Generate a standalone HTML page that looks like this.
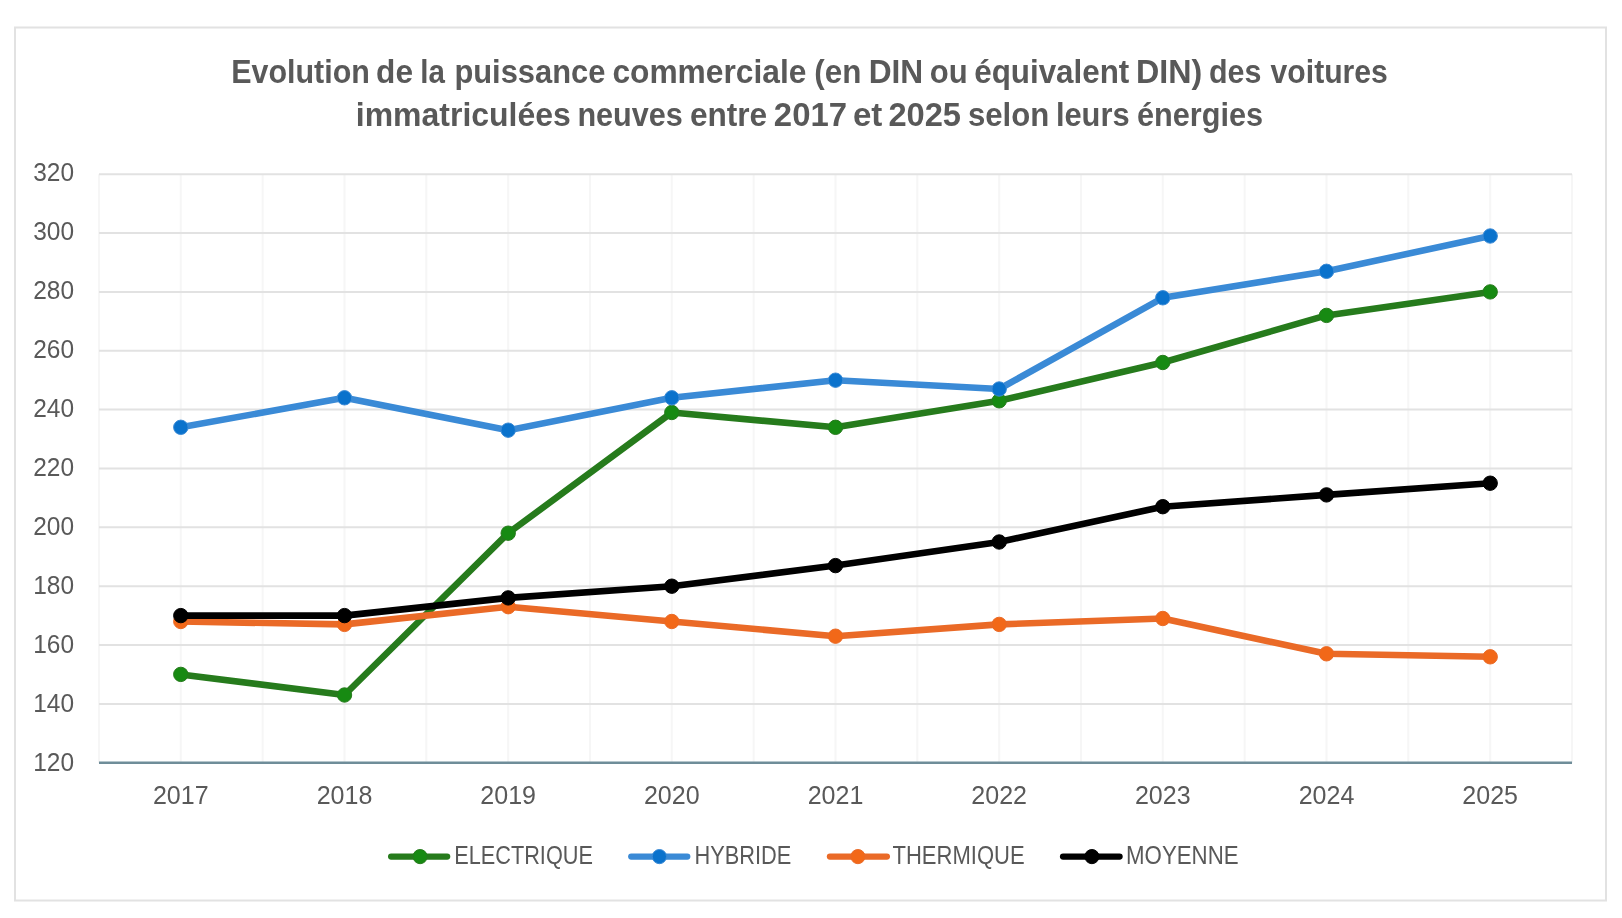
<!DOCTYPE html>
<html><head><meta charset="utf-8"><style>
html,body{margin:0;padding:0;background:#fff;width:1622px;height:918px;overflow:hidden}
svg{display:block;will-change:transform}
text{font-family:"Liberation Sans",sans-serif;fill:#595959}
.ax{font-size:25.5px}
.tt{font-size:32.7px;font-weight:bold}
.lg{font-size:25.6px}
</style></head><body>
<svg width="1622" height="918" viewBox="0 0 1622 918">
<rect x="15" y="27.5" width="1591" height="873" fill="#fff" stroke="#e2e2e2" stroke-width="2"/>
<line x1="99.0" y1="174.2" x2="99.0" y2="762.7" stroke="#f6f6f6" stroke-width="2"/>
<line x1="180.8" y1="174.2" x2="180.8" y2="762.7" stroke="#f6f6f6" stroke-width="2"/>
<line x1="262.7" y1="174.2" x2="262.7" y2="762.7" stroke="#f6f6f6" stroke-width="2"/>
<line x1="344.5" y1="174.2" x2="344.5" y2="762.7" stroke="#f6f6f6" stroke-width="2"/>
<line x1="426.3" y1="174.2" x2="426.3" y2="762.7" stroke="#f6f6f6" stroke-width="2"/>
<line x1="508.2" y1="174.2" x2="508.2" y2="762.7" stroke="#f6f6f6" stroke-width="2"/>
<line x1="590.0" y1="174.2" x2="590.0" y2="762.7" stroke="#f6f6f6" stroke-width="2"/>
<line x1="671.8" y1="174.2" x2="671.8" y2="762.7" stroke="#f6f6f6" stroke-width="2"/>
<line x1="753.7" y1="174.2" x2="753.7" y2="762.7" stroke="#f6f6f6" stroke-width="2"/>
<line x1="835.5" y1="174.2" x2="835.5" y2="762.7" stroke="#f6f6f6" stroke-width="2"/>
<line x1="917.3" y1="174.2" x2="917.3" y2="762.7" stroke="#f6f6f6" stroke-width="2"/>
<line x1="999.2" y1="174.2" x2="999.2" y2="762.7" stroke="#f6f6f6" stroke-width="2"/>
<line x1="1081.0" y1="174.2" x2="1081.0" y2="762.7" stroke="#f6f6f6" stroke-width="2"/>
<line x1="1162.8" y1="174.2" x2="1162.8" y2="762.7" stroke="#f6f6f6" stroke-width="2"/>
<line x1="1244.7" y1="174.2" x2="1244.7" y2="762.7" stroke="#f6f6f6" stroke-width="2"/>
<line x1="1326.5" y1="174.2" x2="1326.5" y2="762.7" stroke="#f6f6f6" stroke-width="2"/>
<line x1="1408.3" y1="174.2" x2="1408.3" y2="762.7" stroke="#f6f6f6" stroke-width="2"/>
<line x1="1490.2" y1="174.2" x2="1490.2" y2="762.7" stroke="#f6f6f6" stroke-width="2"/>
<line x1="1572.0" y1="174.2" x2="1572.0" y2="762.7" stroke="#f6f6f6" stroke-width="2"/>
<line x1="99.0" y1="703.9" x2="1572.0" y2="703.9" stroke="#e2e2e2" stroke-width="2"/>
<line x1="99.0" y1="645.0" x2="1572.0" y2="645.0" stroke="#e2e2e2" stroke-width="2"/>
<line x1="99.0" y1="586.2" x2="1572.0" y2="586.2" stroke="#e2e2e2" stroke-width="2"/>
<line x1="99.0" y1="527.3" x2="1572.0" y2="527.3" stroke="#e2e2e2" stroke-width="2"/>
<line x1="99.0" y1="468.5" x2="1572.0" y2="468.5" stroke="#e2e2e2" stroke-width="2"/>
<line x1="99.0" y1="409.6" x2="1572.0" y2="409.6" stroke="#e2e2e2" stroke-width="2"/>
<line x1="99.0" y1="350.8" x2="1572.0" y2="350.8" stroke="#e2e2e2" stroke-width="2"/>
<line x1="99.0" y1="291.9" x2="1572.0" y2="291.9" stroke="#e2e2e2" stroke-width="2"/>
<line x1="99.0" y1="233.1" x2="1572.0" y2="233.1" stroke="#e2e2e2" stroke-width="2"/>
<line x1="99.0" y1="174.2" x2="1572.0" y2="174.2" stroke="#e2e2e2" stroke-width="2"/>
<line x1="99.0" y1="762.7" x2="1572.0" y2="762.7" stroke="#6f8d99" stroke-width="2.6"/>
<text x="74" y="770.6" text-anchor="end" class="ax" textLength="40.8" lengthAdjust="spacingAndGlyphs">120</text>
<text x="74" y="711.6" text-anchor="end" class="ax" textLength="40.8" lengthAdjust="spacingAndGlyphs">140</text>
<text x="74" y="652.6" text-anchor="end" class="ax" textLength="40.8" lengthAdjust="spacingAndGlyphs">160</text>
<text x="74" y="593.7" text-anchor="end" class="ax" textLength="40.8" lengthAdjust="spacingAndGlyphs">180</text>
<text x="74" y="534.7" text-anchor="end" class="ax" textLength="40.8" lengthAdjust="spacingAndGlyphs">200</text>
<text x="74" y="475.7" text-anchor="end" class="ax" textLength="40.8" lengthAdjust="spacingAndGlyphs">220</text>
<text x="74" y="416.8" text-anchor="end" class="ax" textLength="40.8" lengthAdjust="spacingAndGlyphs">240</text>
<text x="74" y="357.8" text-anchor="end" class="ax" textLength="40.8" lengthAdjust="spacingAndGlyphs">260</text>
<text x="74" y="298.8" text-anchor="end" class="ax" textLength="40.8" lengthAdjust="spacingAndGlyphs">280</text>
<text x="74" y="239.8" text-anchor="end" class="ax" textLength="40.8" lengthAdjust="spacingAndGlyphs">300</text>
<text x="74" y="180.8" text-anchor="end" class="ax" textLength="40.8" lengthAdjust="spacingAndGlyphs">320</text>
<text x="180.8" y="804.3" text-anchor="middle" class="ax" textLength="55.7" lengthAdjust="spacingAndGlyphs">2017</text>
<text x="344.5" y="804.3" text-anchor="middle" class="ax" textLength="55.7" lengthAdjust="spacingAndGlyphs">2018</text>
<text x="508.2" y="804.3" text-anchor="middle" class="ax" textLength="55.7" lengthAdjust="spacingAndGlyphs">2019</text>
<text x="671.8" y="804.3" text-anchor="middle" class="ax" textLength="55.7" lengthAdjust="spacingAndGlyphs">2020</text>
<text x="835.5" y="804.3" text-anchor="middle" class="ax" textLength="55.7" lengthAdjust="spacingAndGlyphs">2021</text>
<text x="999.2" y="804.3" text-anchor="middle" class="ax" textLength="55.7" lengthAdjust="spacingAndGlyphs">2022</text>
<text x="1162.8" y="804.3" text-anchor="middle" class="ax" textLength="55.7" lengthAdjust="spacingAndGlyphs">2023</text>
<text x="1326.5" y="804.3" text-anchor="middle" class="ax" textLength="55.7" lengthAdjust="spacingAndGlyphs">2024</text>
<text x="1490.2" y="804.3" text-anchor="middle" class="ax" textLength="55.7" lengthAdjust="spacingAndGlyphs">2025</text>
<polyline points="180.8,674.4 344.5,695.0 508.2,533.2 671.8,412.5 835.5,427.3 999.2,400.8 1162.8,362.5 1326.5,315.4 1490.2,291.9" fill="none" stroke="#267b1c" stroke-width="6.6" stroke-linejoin="round" stroke-linecap="round"/>
<circle cx="180.8" cy="674.4" r="7.2" fill="#178a12" stroke="#267b1c" stroke-width="1"/>
<circle cx="344.5" cy="695.0" r="7.2" fill="#178a12" stroke="#267b1c" stroke-width="1"/>
<circle cx="508.2" cy="533.2" r="7.2" fill="#178a12" stroke="#267b1c" stroke-width="1"/>
<circle cx="671.8" cy="412.5" r="7.2" fill="#178a12" stroke="#267b1c" stroke-width="1"/>
<circle cx="835.5" cy="427.3" r="7.2" fill="#178a12" stroke="#267b1c" stroke-width="1"/>
<circle cx="999.2" cy="400.8" r="7.2" fill="#178a12" stroke="#267b1c" stroke-width="1"/>
<circle cx="1162.8" cy="362.5" r="7.2" fill="#178a12" stroke="#267b1c" stroke-width="1"/>
<circle cx="1326.5" cy="315.4" r="7.2" fill="#178a12" stroke="#267b1c" stroke-width="1"/>
<circle cx="1490.2" cy="291.9" r="7.2" fill="#178a12" stroke="#267b1c" stroke-width="1"/>
<polyline points="180.8,427.3 344.5,397.8 508.2,430.2 671.8,397.8 835.5,380.2 999.2,389.0 1162.8,297.8 1326.5,271.3 1490.2,236.0" fill="none" stroke="#3a8ad6" stroke-width="6.6" stroke-linejoin="round" stroke-linecap="round"/>
<circle cx="180.8" cy="427.3" r="7.2" fill="#0a72cc" stroke="#3a8ad6" stroke-width="1"/>
<circle cx="344.5" cy="397.8" r="7.2" fill="#0a72cc" stroke="#3a8ad6" stroke-width="1"/>
<circle cx="508.2" cy="430.2" r="7.2" fill="#0a72cc" stroke="#3a8ad6" stroke-width="1"/>
<circle cx="671.8" cy="397.8" r="7.2" fill="#0a72cc" stroke="#3a8ad6" stroke-width="1"/>
<circle cx="835.5" cy="380.2" r="7.2" fill="#0a72cc" stroke="#3a8ad6" stroke-width="1"/>
<circle cx="999.2" cy="389.0" r="7.2" fill="#0a72cc" stroke="#3a8ad6" stroke-width="1"/>
<circle cx="1162.8" cy="297.8" r="7.2" fill="#0a72cc" stroke="#3a8ad6" stroke-width="1"/>
<circle cx="1326.5" cy="271.3" r="7.2" fill="#0a72cc" stroke="#3a8ad6" stroke-width="1"/>
<circle cx="1490.2" cy="236.0" r="7.2" fill="#0a72cc" stroke="#3a8ad6" stroke-width="1"/>
<polyline points="180.8,621.5 344.5,624.4 508.2,606.7 671.8,621.5 835.5,636.2 999.2,624.4 1162.8,618.5 1326.5,653.8 1490.2,656.8" fill="none" stroke="#ea6a27" stroke-width="6.6" stroke-linejoin="round" stroke-linecap="round"/>
<circle cx="180.8" cy="621.5" r="7.2" fill="#f26818" stroke="#ea6a27" stroke-width="1"/>
<circle cx="344.5" cy="624.4" r="7.2" fill="#f26818" stroke="#ea6a27" stroke-width="1"/>
<circle cx="508.2" cy="606.7" r="7.2" fill="#f26818" stroke="#ea6a27" stroke-width="1"/>
<circle cx="671.8" cy="621.5" r="7.2" fill="#f26818" stroke="#ea6a27" stroke-width="1"/>
<circle cx="835.5" cy="636.2" r="7.2" fill="#f26818" stroke="#ea6a27" stroke-width="1"/>
<circle cx="999.2" cy="624.4" r="7.2" fill="#f26818" stroke="#ea6a27" stroke-width="1"/>
<circle cx="1162.8" cy="618.5" r="7.2" fill="#f26818" stroke="#ea6a27" stroke-width="1"/>
<circle cx="1326.5" cy="653.8" r="7.2" fill="#f26818" stroke="#ea6a27" stroke-width="1"/>
<circle cx="1490.2" cy="656.8" r="7.2" fill="#f26818" stroke="#ea6a27" stroke-width="1"/>
<polyline points="180.8,615.6 344.5,615.6 508.2,597.9 671.8,586.2 835.5,565.6 999.2,542.0 1162.8,506.7 1326.5,494.9 1490.2,483.2" fill="none" stroke="#000000" stroke-width="6.6" stroke-linejoin="round" stroke-linecap="round"/>
<circle cx="180.8" cy="615.6" r="7.2" fill="#000000" stroke="#000000" stroke-width="1"/>
<circle cx="344.5" cy="615.6" r="7.2" fill="#000000" stroke="#000000" stroke-width="1"/>
<circle cx="508.2" cy="597.9" r="7.2" fill="#000000" stroke="#000000" stroke-width="1"/>
<circle cx="671.8" cy="586.2" r="7.2" fill="#000000" stroke="#000000" stroke-width="1"/>
<circle cx="835.5" cy="565.6" r="7.2" fill="#000000" stroke="#000000" stroke-width="1"/>
<circle cx="999.2" cy="542.0" r="7.2" fill="#000000" stroke="#000000" stroke-width="1"/>
<circle cx="1162.8" cy="506.7" r="7.2" fill="#000000" stroke="#000000" stroke-width="1"/>
<circle cx="1326.5" cy="494.9" r="7.2" fill="#000000" stroke="#000000" stroke-width="1"/>
<circle cx="1490.2" cy="483.2" r="7.2" fill="#000000" stroke="#000000" stroke-width="1"/>
<text x="231.24" y="83" class="tt" textLength="138.64" lengthAdjust="spacingAndGlyphs">Evolution</text>
<text x="376.09" y="83" class="tt" textLength="36.93" lengthAdjust="spacingAndGlyphs">de</text>
<text x="420.37" y="83" class="tt" textLength="24.62" lengthAdjust="spacingAndGlyphs">la</text>
<text x="454.41" y="83" class="tt" textLength="150.97" lengthAdjust="spacingAndGlyphs">puissance</text>
<text x="612.39" y="83" class="tt" textLength="194.02" lengthAdjust="spacingAndGlyphs">commerciale</text>
<text x="814.36" y="83" class="tt" textLength="47.09" lengthAdjust="spacingAndGlyphs">(en</text>
<text x="868.66" y="83" class="tt" textLength="54.52" lengthAdjust="spacingAndGlyphs">DIN</text>
<text x="929.82" y="83" class="tt" textLength="37.86" lengthAdjust="spacingAndGlyphs">ou</text>
<text x="974.20" y="83" class="tt" textLength="155.10" lengthAdjust="spacingAndGlyphs">équivalent</text>
<text x="1136.03" y="83" class="tt" textLength="66.29" lengthAdjust="spacingAndGlyphs">DIN)</text>
<text x="1208.94" y="83" class="tt" textLength="52.40" lengthAdjust="spacingAndGlyphs">des</text>
<text x="1270.60" y="83" class="tt" textLength="117.28" lengthAdjust="spacingAndGlyphs">voitures</text>
<text x="355.80" y="126.0" class="tt" textLength="215.01" lengthAdjust="spacingAndGlyphs">immatriculées</text>
<text x="577.43" y="126.0" class="tt" textLength="105.35" lengthAdjust="spacingAndGlyphs">neuves</text>
<text x="689.89" y="126.0" class="tt" textLength="77.32" lengthAdjust="spacingAndGlyphs">entre</text>
<text x="773.89" y="126.0" class="tt" textLength="73.13" lengthAdjust="spacingAndGlyphs">2017</text>
<text x="852.94" y="126.0" class="tt" textLength="29.40" lengthAdjust="spacingAndGlyphs">et</text>
<text x="888.40" y="126.0" class="tt" textLength="72.62" lengthAdjust="spacingAndGlyphs">2025</text>
<text x="968.01" y="126.0" class="tt" textLength="81.27" lengthAdjust="spacingAndGlyphs">selon</text>
<text x="1055.88" y="126.0" class="tt" textLength="73.74" lengthAdjust="spacingAndGlyphs">leurs</text>
<text x="1137.03" y="126.0" class="tt" textLength="126.10" lengthAdjust="spacingAndGlyphs">énergies</text>
<line x1="391.15" y1="856.6" x2="447.15000000000003" y2="856.6" stroke="#267b1c" stroke-width="6.3" stroke-linecap="round"/>
<circle cx="420.1" cy="856.6" r="7.1" fill="#178a12" stroke="#267b1c" stroke-width="1"/>
<text x="454.31" y="863.9" class="lg" textLength="138.60" lengthAdjust="spacingAndGlyphs">ELECTRIQUE</text>
<line x1="631.25" y1="856.6" x2="687.25" y2="856.6" stroke="#3a8ad6" stroke-width="6.3" stroke-linecap="round"/>
<circle cx="659.4" cy="856.6" r="7.1" fill="#0a72cc" stroke="#3a8ad6" stroke-width="1"/>
<text x="694.40" y="863.9" class="lg" textLength="96.88" lengthAdjust="spacingAndGlyphs">HYBRIDE</text>
<line x1="829.9499999999999" y1="856.6" x2="886.85" y2="856.6" stroke="#ea6a27" stroke-width="6.3" stroke-linecap="round"/>
<circle cx="857.9" cy="856.6" r="7.1" fill="#f26818" stroke="#ea6a27" stroke-width="1"/>
<text x="892.47" y="863.9" class="lg" textLength="132.14" lengthAdjust="spacingAndGlyphs">THERMIQUE</text>
<line x1="1063.0500000000002" y1="856.6" x2="1119.55" y2="856.6" stroke="#000000" stroke-width="6.3" stroke-linecap="round"/>
<circle cx="1091.9" cy="856.6" r="7.1" fill="#000000" stroke="#000000" stroke-width="1"/>
<text x="1126.06" y="863.9" class="lg" textLength="112.54" lengthAdjust="spacingAndGlyphs">MOYENNE</text>
</svg>
</body></html>
